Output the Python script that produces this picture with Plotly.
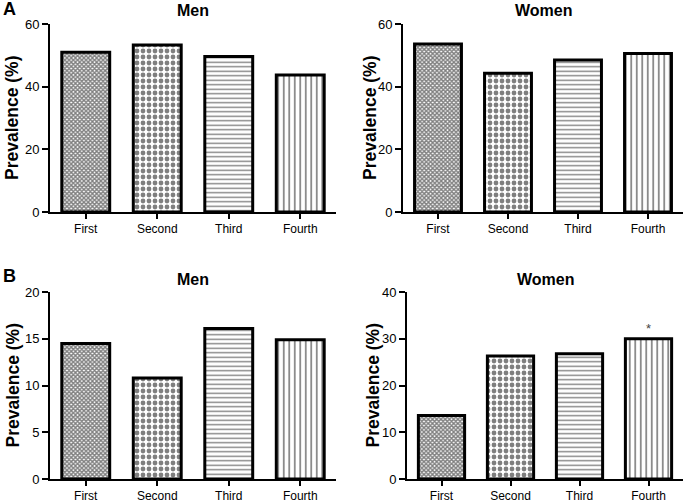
import plotly.graph_objects as go

quartiles = ["First", "Second", "Third", "Fourth"]
men_a = [51.0, 53.3, 49.6, 43.7]
women_a = [53.6, 44.3, 48.5, 50.6]
men_b = [14.5, 10.8, 16.1, 14.9]
women_b = [13.6, 26.3, 26.8, 30.0]

panel_titles = ["Men", "Women", "Men", "Women"]
y_ranges = [[0, 60], [0, 60], [0, 20], [0, 40]]
y_dticks = [20, 20, 5, 10]

# one hatch per quartile: fine checker, coarse checker, horizontal, vertical
shapes = ["x", ".", "-", "|"]
sizes = [3, 6, 4.5, 5.5]
solid = [0.7, 0.5, 0.3, 0.3]

FONT = "Arial, Liberation Sans, sans-serif"

# panel boxes in pixels (x0, x1, ytop, ybottom) on a 695x503 page
W, H = 695, 503
boxes = [(50, 336, 24, 212), (403, 683, 24, 212),
         (50, 336, 292, 479), (407, 683, 292, 479)]
ytitle_x = [12, 370, 12, 372]

fig = go.Figure()
layout = dict(
    width=W, height=H,
    margin=dict(l=0, r=0, t=0, b=0, autoexpand=False),
    plot_bgcolor="white", paper_bgcolor="white",
    showlegend=False, bargap=0.33,
    font=dict(family=FONT, color="black"),
)
annotations = []

for i, vals in enumerate([men_a, women_a, men_b, women_b]):
    n = "" if i == 0 else str(i + 1)
    x0, x1, yt, yb = boxes[i]
    fig.add_trace(go.Bar(
        x=quartiles, y=vals, xaxis="x" + n, yaxis="y" + n,
        marker=dict(
            color="white",
            line=dict(color="black", width=3),
            pattern=dict(shape=shapes, size=sizes, solidity=solid,
                         fgcolor="black", bgcolor="white"),
        ),
    ))
    layout["xaxis" + n] = dict(
        domain=[x0 / W, x1 / W], anchor="y" + n,
        range=[-0.5, 3.5], showline=True, linecolor="black", linewidth=2,
        ticks="outside", ticklen=5, tickwidth=2, tickcolor="black",
        tickfont=dict(size=12, family=FONT), showgrid=False, zeroline=False,
    )
    layout["yaxis" + n] = dict(
        domain=[(H - yb) / H, (H - yt) / H], anchor="x" + n,
        range=y_ranges[i], dtick=y_dticks[i],
        showline=True, linecolor="black", linewidth=2,
        ticks="outside", ticklen=6, tickwidth=2, tickcolor="black",
        tickfont=dict(size=13, family=FONT), showgrid=False, zeroline=False,
    )
    annotations.append(dict(
        text="<b>Prevalence (%)</b>", xref="paper", yref="paper", textangle=-90,
        x=ytitle_x[i] / W, y=(H - (yt + yb) / 2) / H, xanchor="center", yanchor="middle",
        showarrow=False, font=dict(size=17.5, family=FONT),
    ))
    annotations.append(dict(
        text="<b>" + panel_titles[i] + "</b>", xref="paper", yref="paper",
        x=(x0 + x1) / 2 / W, y=(H - (yt - 13)) / H, xanchor="center", yanchor="middle",
        showarrow=False, font=dict(size=16, family=FONT),
    ))

annotations.append(dict(text="<b>A</b>", xref="paper", yref="paper", x=1 / W, y=1 - 9 / H,
                        xanchor="left", yanchor="middle", showarrow=False,
                        font=dict(size=18, family=FONT)))
annotations.append(dict(text="<b>B</b>", xref="paper", yref="paper", x=1 / W, y=1 - 276 / H,
                        xanchor="left", yanchor="middle", showarrow=False,
                        font=dict(size=18, family=FONT)))
annotations.append(dict(text="*", xref="x4", yref="y4", x="Fourth", y=women_b[3],
                        yanchor="bottom", yshift=1, showarrow=False,
                        font=dict(size=13, family=FONT, color="#444")))

layout["annotations"] = annotations
fig.update_layout(**layout)
# drop the browser's default body margin so the figure sits at the page corner
fig.write_html("out.html", config={"displayModeBar": False},
               post_script="document.body.style.margin='0';")
